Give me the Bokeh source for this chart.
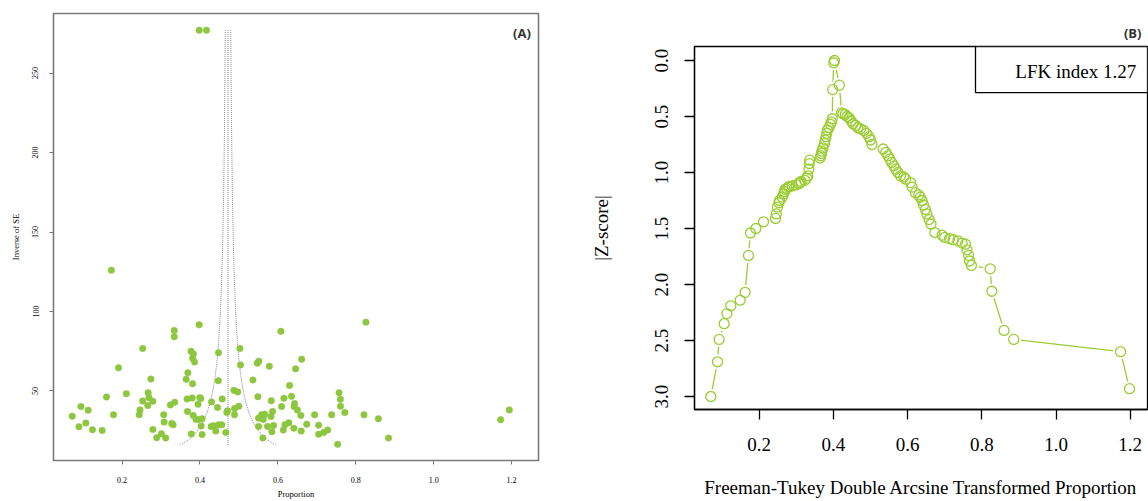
import numpy as np
from bokeh.plotting import figure
from bokeh.layouts import row, column
from bokeh.models import Range1d, Label, BoxAnnotation, FixedTicker, PrintfTickFormatter
from bokeh.embed import file_html
from bokeh.resources import INLINE

# ---------------- Panel A: funnel plot data ----------------
fa_x = [0.072, 0.0945, 0.0894, 0.113, 0.107, 0.124, 0.149, 0.160, 0.178, 0.191,
        0.211, 0.253, 0.253, 0.244, 0.246, 0.274, 0.267, 0.269, 0.266, 0.279,
        0.279, 0.289, 0.301, 0.307, 0.308, 0.312, 0.324, 0.335, 0.3275, 0.331,
        0.334, 0.334, 0.398, 0.377, 0.383, 0.381, 0.386, 0.369, 0.3645, 0.381,
        0.367, 0.380, 0.3995, 0.402, 0.395, 0.368, 0.3825, 0.390, 0.396, 0.4055,
        0.403, 0.378, 0.4055, 0.4296, 0.445, 0.457, 0.447, 0.4476, 0.4286, 0.4347,
        0.4476, 0.456, 0.4406, 0.4663, 0.4707, 0.469, 0.487, 0.497, 0.4887, 0.4997,
        0.5024, 0.504, 0.4887,
        0.826, 0.6078, 0.661, 0.547, 0.551, 0.578, 0.6455, 0.536, 0.630, 0.5486,
        0.6155, 0.635, 0.583, 0.757, 0.7604, 0.7607, 0.772, 0.643, 0.6416, 0.650,
        0.6095, 0.659, 0.6943, 0.738, 0.821, 0.858, 0.884, 0.7535, 0.7046, 0.7046,
        0.7175, 0.7278, 0.674, 0.6598, 0.641, 0.628, 0.618, 0.614, 0.589, 0.5846,
        0.5735, 0.5504, 0.5615, 0.5504, 0.558, 0.566, 0.5625, 0.582, 0.5864,
        1.194, 1.1717, 0.398, 0.4167, 0.1725]
fa_y = [34.1, 40.2, 27.5, 37.9, 29.8, 25.6, 25.2, 46.2, 35.0, 64.6,
        48.3, 76.7, 43.7, 35.0, 38.1, 57.5, 48.9, 45.8, 40.8, 43.5,
        25.8, 20.6, 23.1, 35.0, 30.4, 20.4, 41.2, 42.9, 29.6, 28.7,
        88.1, 84.1, 91.6, 75.0, 73.3, 70.6, 68.3, 61.4, 57.3, 54.6,
        45.0, 45.6, 45.8, 45.2, 41.6, 37.1, 34.6, 32.1, 32.1, 32.5,
        27.9, 22.9, 22.6, 43.1, 39.6, 45.0, 56.4, 74.1, 27.7, 28.1,
        28.7, 28.7, 24.8, 23.9, 37.5, 36.4, 50.4, 49.4, 38.9, 40.4,
        76.7, 66.4, 35.0,
        93.3, 87.5, 70.0, 67.5, 68.7, 65.6, 63.9, 56.9, 53.5, 46.4,
        45.4, 46.6, 43.9, 48.9, 44.8, 40.4, 36.4, 42.1, 40.2, 38.1,
        40.2, 34.6, 35.0, 35.0, 35.0, 32.5, 20.4, 16.4, 28.5, 22.7,
        23.9, 25.4, 29.1, 24.8, 26.6, 30.0, 28.7, 25.4, 28.3, 24.4,
        27.7, 27.7, 20.4, 32.9, 35.0, 35.4, 32.1, 33.9, 37.1,
        38.1, 31.9, 277.0, 277.0, 126.0]
pooled_estimate = 0.472
inv_se_min, inv_se_max = 16.0, 277.0

# ---------------- Panel B: Doi plot data ----------------
doi_x = [0.0696, 0.0876, 0.092, 0.1056, 0.1128, 0.1235, 0.1487, 0.162, 0.171, 0.1765,
         0.191, 0.2116, 0.244, 0.246, 0.249, 0.253, 0.255, 0.262, 0.266, 0.268,
         0.270, 0.274, 0.279, 0.281, 0.289, 0.300, 0.307, 0.309, 0.313, 0.323,
         0.328, 0.331, 0.334, 0.335, 0.336, 0.364, 0.366, 0.368, 0.369, 0.372,
         0.376, 0.378, 0.380, 0.382, 0.384, 0.388, 0.392, 0.395, 0.397, 0.398,
         0.401, 0.403, 0.416,
         0.422, 0.426, 0.432, 0.437, 0.442, 0.448, 0.453, 0.460, 0.466, 0.473,
         0.482, 0.489, 0.496, 0.500, 0.504, 0.534, 0.541, 0.547, 0.552, 0.557,
         0.563, 0.568, 0.574, 0.581, 0.590, 0.595, 0.608, 0.612, 0.621, 0.630,
         0.634, 0.639, 0.643, 0.648, 0.652, 0.658, 0.663, 0.6735, 0.693, 0.700,
         0.713, 0.723, 0.7355, 0.747, 0.756, 0.760, 0.7645, 0.767, 0.772, 0.8226,
         0.827, 0.860, 0.886, 1.174, 1.198]
doi_z = [3.00, 2.69, 2.49, 2.35, 2.26, 2.19, 2.14, 2.07, 1.74, 1.54,
         1.50, 1.44, 1.41, 1.37, 1.31, 1.27, 1.25, 1.22, 1.19, 1.17,
         1.15, 1.14, 1.13, 1.125, 1.12, 1.11, 1.10, 1.09, 1.08, 1.07,
         1.05, 1.03, 0.97, 0.92, 0.89, 0.87, 0.85, 0.83, 0.81, 0.78,
         0.74, 0.71, 0.68, 0.65, 0.62, 0.60, 0.57, 0.55, 0.52, 0.26,
         0.02, 0.00, 0.22,
         0.467, 0.476, 0.482, 0.50, 0.512, 0.54, 0.565, 0.58, 0.60, 0.61,
         0.625, 0.65, 0.68, 0.71, 0.75, 0.79, 0.82, 0.85, 0.88, 0.91,
         0.94, 0.97, 1.00, 1.03, 1.04, 1.06, 1.09, 1.13, 1.18, 1.20,
         1.22, 1.25, 1.29, 1.33, 1.37, 1.42, 1.46, 1.536, 1.56, 1.58,
         1.59, 1.60, 1.61, 1.63, 1.64, 1.69, 1.74, 1.79, 1.83, 1.86,
         2.06, 2.41, 2.49, 2.60, 2.93]
lfk_text = "LFK index 1.27"

GREEN_A = "#8DC63F"
GREEN_B = "#9ACD32"
SERIF = "Liberation Serif"

# ================= Panel A =================
pA = figure(width=574, height=501, output_backend="svg", toolbar_location=None,
            x_range=Range1d(0.024, 1.269), y_range=Range1d(6.25, 287.5),
            min_border_left=53, min_border_right=36, min_border_top=13, min_border_bottom=38)
pA.grid.visible = False
pA.outline_line_color = "#7a7a7a"
pA.outline_line_width = 1.6

# funnel lines
yy = np.linspace(inv_se_min, inv_se_max, 300)
pA.line(pooled_estimate - 1.96 / yy, yy, line_color="#666666", line_width=0.8, line_dash="1 1")
pA.line(pooled_estimate + 1.96 / yy, yy, line_color="#666666", line_width=0.8, line_dash="1 1")
pA.line([pooled_estimate, pooled_estimate], [inv_se_min, inv_se_max],
        line_color="#666666", line_width=0.8, line_dash="1 1")

pA.scatter(fa_x, fa_y, size=6.5, fill_color=GREEN_A, line_color=GREEN_A, line_width=0.5)

for ax in (pA.xaxis[0], pA.yaxis[0]):
    ax.axis_line_color = "#7a7a7a"
    ax.major_tick_line_color = "#7a7a7a"
    ax.minor_tick_line_color = None
    ax.major_tick_in = 0
    ax.major_tick_out = 4
    ax.major_label_text_font = SERIF
    ax.major_label_text_font_size = "8px"
    ax.major_label_text_color = "black"
    ax.axis_label_text_font = SERIF
    ax.axis_label_text_font_size = "8.5px"
    ax.axis_label_text_font_style = "normal"
    ax.axis_label_text_color = "black"
pA.xaxis.ticker = FixedTicker(ticks=[0.2, 0.4, 0.6, 0.8, 1.0, 1.2])
pA.xaxis.formatter = PrintfTickFormatter(format="%.1f")
pA.xaxis.major_label_standoff = 12
pA.xaxis.axis_label = "Proportion"
pA.xaxis.axis_label_standoff = 3
pA.yaxis.ticker = FixedTicker(ticks=[50, 100, 150, 200, 250])
pA.yaxis.major_label_orientation = "vertical"
pA.yaxis.major_label_standoff = 11
pA.yaxis.axis_label = "Inverse of SE"
pA.yaxis.axis_label_standoff = 9

pA.add_layout(Label(x=1.2265, y=275, text="(A)", text_font="Open Sans",
                    text_font_style="bold", text_font_size="13px", text_color="#333333",
                    text_align="center", text_baseline="middle"))

# ================= Panel B =================
pB = figure(width=574, height=501, output_backend="svg", toolbar_location=None,
            x_range=Range1d(0.0256, 1.2466), y_range=Range1d(3.116, -0.125),
            min_border_left=120, min_border_right=1, min_border_top=46, min_border_bottom=92)
pB.grid.visible = False
pB.outline_line_color = "black"
pB.outline_line_width = 1.3
pB.title.text = "(B)"
pB.title.align = "right"
pB.title.offset = 6
pB.title.standoff = 10
pB.title.text_font = "Open Sans"
pB.title.text_font_style = "bold"
pB.title.text_font_size = "13px"
pB.title.text_color = "#333333"

pB.line(doi_x, doi_z, line_color=GREEN_B, line_width=1.3)
pB.scatter(doi_x, doi_z, size=15, fill_color="white", line_color=None)
pB.scatter(doi_x, doi_z, size=10, fill_color=None, line_color=GREEN_B, line_width=1.3)

for ax in (pB.xaxis[0], pB.yaxis[0]):
    ax.axis_line_color = "black"
    ax.axis_line_width = 1.3
    ax.major_tick_line_color = "black"
    ax.major_tick_line_width = 1.3
    ax.minor_tick_line_color = None
    ax.major_tick_in = 0
    ax.major_tick_out = 10
    ax.major_label_text_font = SERIF
    ax.major_label_text_font_size = "19px"
    ax.major_label_text_color = "black"
    ax.axis_label_text_font = SERIF
    ax.axis_label_text_font_size = "19px"
    ax.axis_label_text_font_style = "normal"
    ax.axis_label_text_color = "black"
pB.xaxis.ticker = FixedTicker(ticks=[0.2, 0.4, 0.6, 0.8, 1.0, 1.2])
pB.xaxis.formatter = PrintfTickFormatter(format="%.1f")
pB.xaxis.major_label_standoff = 18
pB.xaxis.axis_label = "Freeman-Tukey Double Arcsine Transformed Proportion"
pB.xaxis.axis_label_standoff = 23
pB.yaxis.ticker = FixedTicker(ticks=[0.0, 0.5, 1.0, 1.5, 2.0, 2.5, 3.0])
pB.yaxis.formatter = PrintfTickFormatter(format="%.1f")
pB.yaxis.major_label_orientation = "vertical"
pB.yaxis.major_label_standoff = 16
pB.yaxis.axis_label = "|Z-score|"
pB.yaxis.axis_label_standoff = 41

pB.add_layout(BoxAnnotation(left=0.783, right=1.2466, top=-0.125, bottom=0.286,
                            fill_color="white", fill_alpha=1.0,
                            line_color="black", line_alpha=1.0, line_width=1.3))
pB.add_layout(Label(x=1.216, y=0.095, text=lfk_text, text_font=SERIF,
                    text_font_size="19px", text_color="black",
                    text_align="right", text_baseline="middle"))

layout = row(column(pA), column(pB))
open("out.html", "w").write(file_html(layout, INLINE))
